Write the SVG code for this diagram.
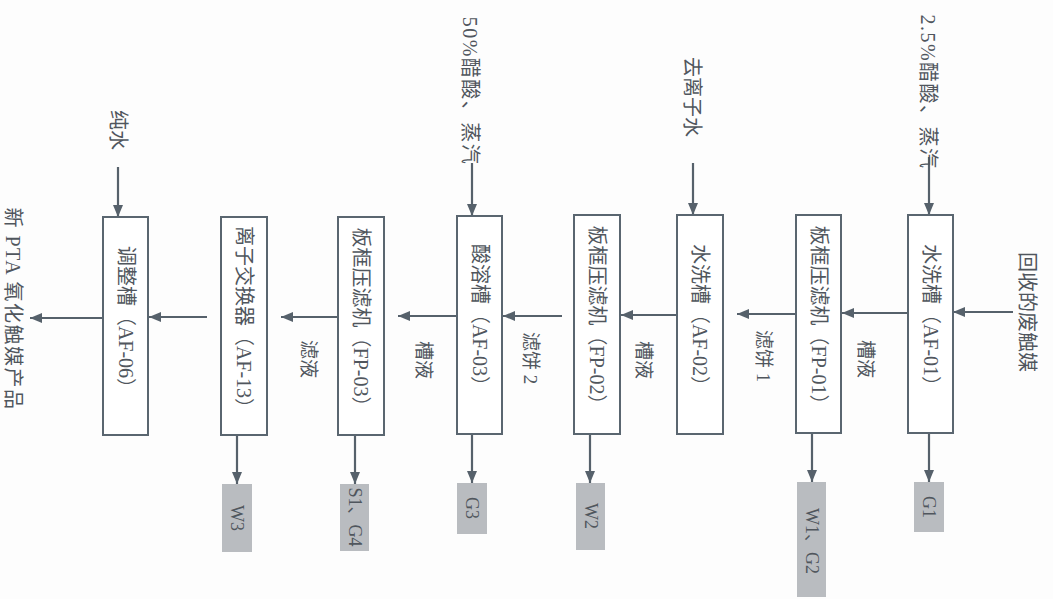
<svg xmlns="http://www.w3.org/2000/svg" width="1053" height="599" viewBox="0 0 1053 599">
<defs>
<marker id="ah" viewBox="0 0 12 10" refX="12" refY="5" markerWidth="12" markerHeight="10" markerUnits="userSpaceOnUse" orient="auto">
<path d="M0,0 L12,5 L0,10 z" fill="#56616b"/>
</marker>
<style>
.box{fill:#ffffff;stroke:#5a6670;stroke-width:2}
.out{fill:#b9bcc0;stroke:none}
.ln{stroke:#56616b;stroke-width:2.2;fill:none;marker-end:url(#ah)}
text{font-family:"Liberation Serif","Noto Sans CJK SC",serif;fill:#50565d;text-anchor:middle;dominant-baseline:central}
.t{font-size:20px}
.w{letter-spacing:1.5px}
.s{font-size:19px}
.o{font-size:18px}
</style>
</defs>
<rect width="1053" height="599" fill="#fdfdfd"/>
<g id="connectors">
<line class="ln" x1="929" y1="157" x2="929" y2="215"/>
<line class="ln" x1="693" y1="163" x2="693" y2="215"/>
<line class="ln" x1="472" y1="163" x2="472" y2="216"/>
<line class="ln" x1="118" y1="167" x2="118" y2="217"/>
<line class="ln" x1="1013" y1="312" x2="953" y2="312"/>
<line class="ln" x1="908" y1="313" x2="842" y2="313"/>
<line class="ln" x1="796" y1="314" x2="737" y2="314"/>
<line class="ln" x1="677" y1="315" x2="621" y2="315"/>
<line class="ln" x1="562" y1="316" x2="503" y2="316"/>
<line class="ln" x1="457" y1="316" x2="398" y2="316"/>
<line class="ln" x1="338" y1="317" x2="281" y2="317"/>
<line class="ln" x1="207" y1="317" x2="149" y2="317"/>
<line class="ln" x1="103" y1="318" x2="30" y2="318"/>
<line class="ln" x1="929" y1="433" x2="929" y2="482"/>
<line class="ln" x1="812" y1="433" x2="812" y2="482"/>
<line class="ln" x1="590" y1="434" x2="590" y2="483"/>
<line class="ln" x1="472" y1="434" x2="472" y2="483"/>
<line class="ln" x1="355" y1="435" x2="355" y2="484"/>
<line class="ln" x1="237" y1="435" x2="237" y2="484"/>
<text class="s" transform="translate(865,359) rotate(90)">槽液</text>
<text class="s" transform="translate(763,356) rotate(90)">滤饼 1</text>
<text class="s" transform="translate(643,360) rotate(90)">槽液</text>
<text class="s" transform="translate(530,358) rotate(90)">滤饼 2</text>
<text class="s" transform="translate(423,360) rotate(90)">槽液</text>
<text class="s" transform="translate(308,359) rotate(90)">滤液</text>
</g>
<g id="inputs">
<text class="t w" transform="translate(928,92) rotate(90)">2.5%醋酸、蒸汽</text>
<text class="t" transform="translate(692,97) rotate(90)">去离子水</text>
<text class="t w" transform="translate(470,91) rotate(90)">50%醋酸、蒸汽</text>
<text class="t" transform="translate(118,130) rotate(90)">纯水</text>
<text class="t" transform="translate(1027,312) rotate(90)">回收的废触媒</text>
<text class="t w" transform="translate(13,309) rotate(90)">新 PTA 氧化触媒产品</text>
</g>
<g id="AF-01"><rect class="box" x="908" y="215" width="45" height="218"/><text class="t" transform="translate(930.5,320) rotate(90)">水洗槽（AF-01）</text></g>
<g id="FP-01"><rect class="box" x="796" y="215" width="45" height="218"/><text class="t" transform="translate(818.5,320) rotate(90)">板框压滤机（FP-01）</text></g>
<g id="AF-02"><rect class="box" x="677" y="215" width="46" height="219"/><text class="t" transform="translate(700,320) rotate(90)">水洗槽（AF-02）</text></g>
<g id="FP-02"><rect class="box" x="574" y="215" width="46" height="219"/><text class="t" transform="translate(597,320) rotate(90)">板框压滤机（FP-02）</text></g>
<g id="AF-03"><rect class="box" x="457" y="216" width="45" height="218"/><text class="t" transform="translate(479.5,320) rotate(90)">酸溶槽（AF-03）</text></g>
<g id="FP-03"><rect class="box" x="338" y="217" width="46" height="218"/><text class="t" transform="translate(361,322) rotate(90)">板框压滤机（FP-03）</text></g>
<g id="AF-13"><rect class="box" x="221" y="217" width="46" height="218"/><text class="t" transform="translate(244,322) rotate(90)">离子交换器（AF-13）</text></g>
<g id="AF-06"><rect class="box" x="103" y="217" width="45" height="218"/><text class="t" transform="translate(125.5,322) rotate(90)">调整槽（AF-06）</text></g>
<g id="G1"><rect class="out" x="914" y="482" width="30" height="50"/><text class="o" transform="translate(929,507) rotate(90)">G1</text></g>
<g id="W1G2"><rect class="out" x="797" y="482" width="29" height="115"/><text class="o" transform="translate(811.5,541) rotate(90)">W1、G2</text></g>
<g id="W2"><rect class="out" x="576" y="483" width="29" height="67"/><text class="o" transform="translate(590.5,516) rotate(90)">W2</text></g>
<g id="G3"><rect class="out" x="457" y="483" width="30" height="51"/><text class="o" transform="translate(472,508) rotate(90)">G3</text></g>
<g id="S1G4"><rect class="out" x="340" y="484" width="29" height="67"/><text class="o" transform="translate(354.5,517) rotate(90)">S1、G4</text></g>
<g id="W3"><rect class="out" x="222" y="484" width="30" height="68"/><text class="o" transform="translate(237,518) rotate(90)">W3</text></g>
</svg>
